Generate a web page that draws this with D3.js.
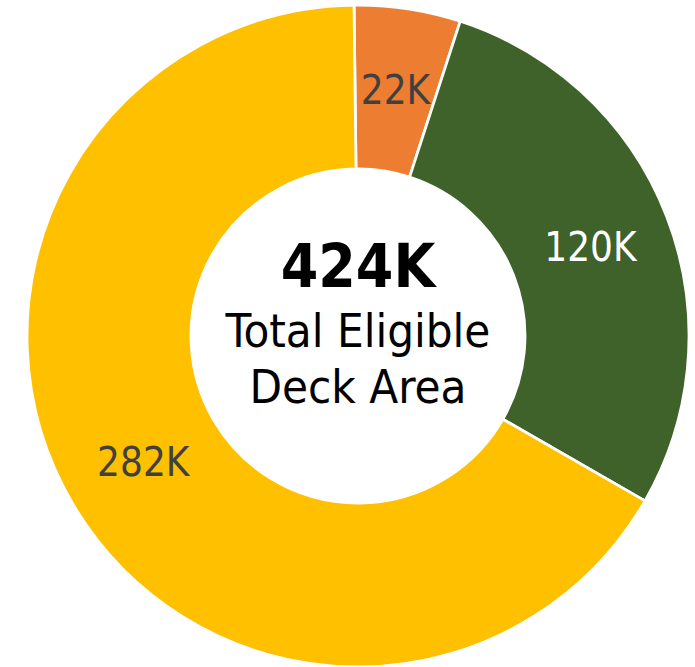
<!DOCTYPE html>
<html>
<head>
<meta charset="utf-8">
<script src="https://cdn.jsdelivr.net/npm/d3@7"></script>
<style>
  html, body { margin: 0; padding: 0; background: #ffffff; }
  svg { display: block; }
</style>
</head>
<body>
<svg id="chart" width="695" height="667"></svg>
<script>
// Deck area breakdown (square feet)
const categories = ["Segment A", "Segment B", "Segment C"];
const values = [22000, 120000, 282000];
const sliceLabels = ["22K", "120K", "282K"];
const colors = ["#ED7D31", "#3F612A", "#FFC000"];
const labelColors = ["#404040", "#ffffff", "#404040"];
const totalLabel = "424K";
const centerLines = ["Total Eligible", "Deck Area"];

const width = 695, height = 667;
const cx = 358, cy = 336;
const outerR = 331, innerR = 167;

const svg = d3.select("#chart");
const g = svg.append("g").attr("transform", `translate(${cx},${cy})`);

const pie = d3.pie()
  .value(d => d.value)
  .sort(null)
  .startAngle(-0.012)
  .endAngle(2 * Math.PI - 0.012);

const data = categories.map((c, i) => ({
  name: c, value: values[i], label: sliceLabels[i],
  color: colors[i], labelColor: labelColors[i]
}));

const arcs = pie(data);
const arc = d3.arc().innerRadius(innerR).outerRadius(outerR);
const labelArc = d3.arc().innerRadius((innerR + outerR) / 2).outerRadius((innerR + outerR) / 2);

g.selectAll("path.slice")
  .data(arcs)
  .join("path")
  .attr("class", "slice")
  .attr("d", arc)
  .attr("fill", d => d.data.color)
  .attr("stroke", "#ffffff")
  .attr("stroke-width", 2.8)
  .attr("stroke-linejoin", "miter");

const font = "'DejaVu Sans Condensed', 'DejaVu Sans', sans-serif";

g.selectAll("text.slice-label")
  .data(arcs)
  .join("text")
  .attr("class", "slice-label")
  .attr("transform", d => `translate(${labelArc.centroid(d)})`)
  .attr("text-anchor", "middle")
  .attr("dy", "0.36em")
  .attr("font-family", font)
  .attr("font-size", 40)
  .attr("fill", d => d.data.labelColor)
  .text(d => d.data.label);

// Center summary
g.append("text")
  .attr("text-anchor", "middle")
  .attr("y", -49)
  .attr("font-family", font)
  .attr("font-weight", "bold")
  .attr("font-size", 60)
  .attr("fill", "#000000")
  .text(totalLabel);

g.selectAll("text.center-line")
  .data(centerLines)
  .join("text")
  .attr("class", "center-line")
  .attr("text-anchor", "middle")
  .attr("y", (d, i) => 11 + i * 56)
  .attr("font-family", font)
  .attr("font-size", 47)
  .attr("fill", "#000000")
  .text(d => d);
</script>
</body>
</html>
